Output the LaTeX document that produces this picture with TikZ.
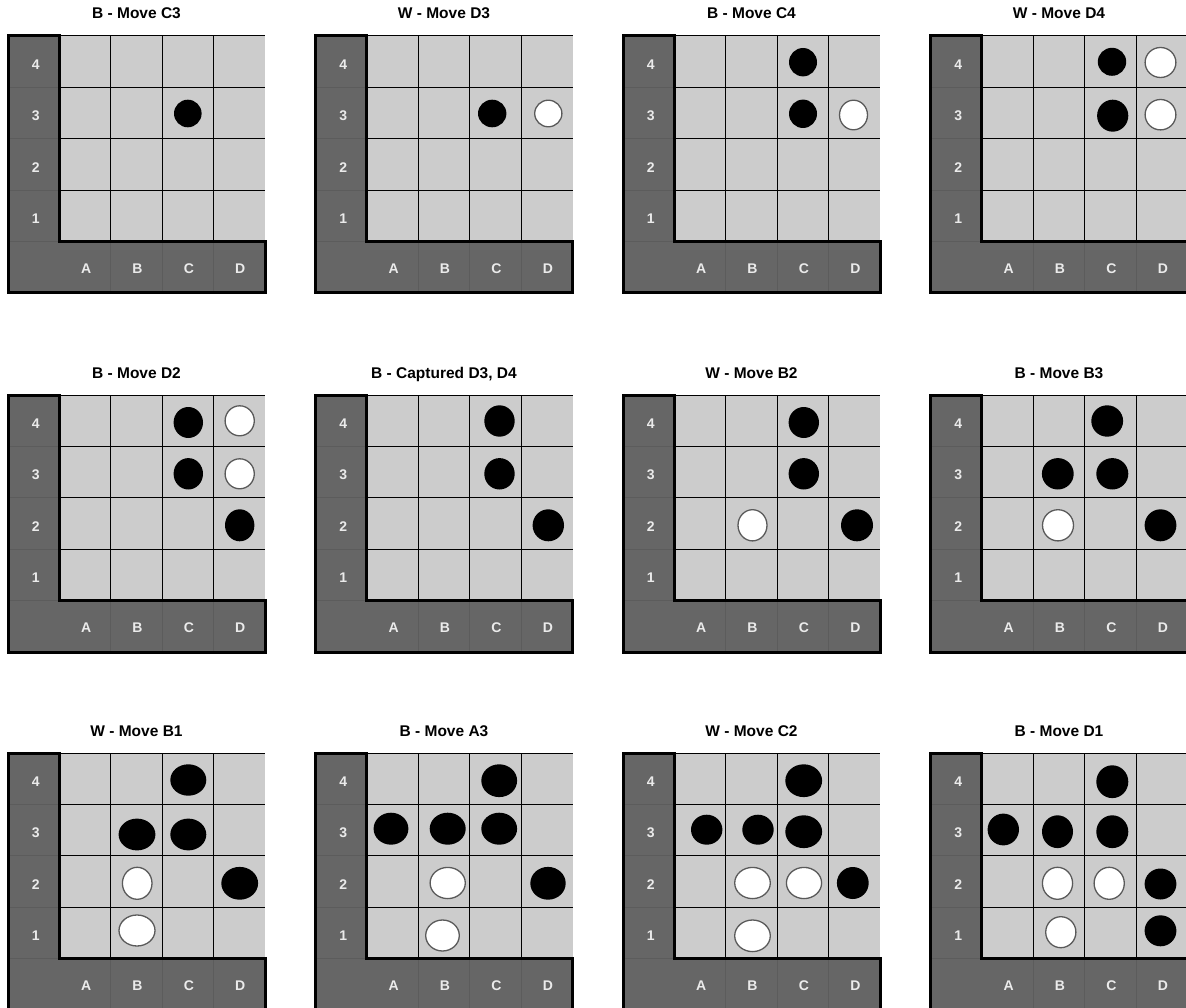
\documentclass[tikz,border=0pt]{standalone}
\usepackage{fontspec}
\setmainfont{Liberation Sans}
\definecolor{darkc}{HTML}{666666}
\definecolor{lightc}{HTML}{CCCCCC}
\definecolor{sepc}{HTML}{5C5C5C}
\definecolor{labc}{HTML}{EBEBEB}
\definecolor{rimc}{HTML}{5A5A5A}
\tikzset{
 boardtitle/.style={font=\bfseries\fontsize{15.5}{18}\selectfont, text=black, inner sep=0pt, anchor=base},
 axislabel/.style={font=\bfseries\fontsize{14}{16}\selectfont, text=labc, inner sep=0pt},
 gridline/.style={line width=1pt, black},
 sepline/.style={line width=0.8pt, sepc},
 frameline/.style={line width=3pt, black, line join=miter},
 blackstone/.style={fill=black},
 whitestone/.style={fill=white, draw=rimc, line width=1.3pt},
}
\newcommand\drawboard[4]{%
\begin{scope}[shift={(#1,#2)}]
 \fill[lightc] (51.4,0) rectangle (257,205.6);
 \fill[darkc] (0,0) -- (51.4,0) -- (51.4,205.6) -- (257,205.6) -- (257,257) -- (0,257) -- cycle;
 \foreach \yy in {51.4,102.8,154.2,205.6} \draw[sepline] (0,\yy) -- (51.4,\yy);
 \foreach \xx in {102.8,154.2,205.6} \draw[sepline] (\xx,205.6) -- (\xx,257);
 \foreach \yy in {0,51.4,102.8,154.2} \draw[gridline] (51.4,\yy) -- (257,\yy);
 \foreach \xx in {102.8,154.2,205.6} \draw[gridline] (\xx,0) -- (\xx,205.6);
 \draw[frameline] (0,0) -- (51.4,0) -- (51.4,205.6) -- (257,205.6) -- (257,257) -- (0,257) -- cycle;
 \node[boardtitle] (#4-title) at (128.5,-17) {#3};
 \node[axislabel] (#4-r4) at (27.8,28.7) {4};
 \node[axislabel] (#4-r3) at (27.8,80.1) {3};
 \node[axislabel] (#4-r2) at (27.8,131.5) {2};
 \node[axislabel] (#4-r1) at (27.8,182.9) {1};
 \node[axislabel] (#4-ca) at (78.1,232.3) {A};
 \node[axislabel] (#4-cb) at (129.5,232.3) {B};
 \node[axislabel] (#4-cc) at (180.9,232.3) {C};
 \node[axislabel] (#4-cd) at (232.3,232.3) {D};
\end{scope}}
\newcommand\bst[4]{\fill[blackstone] (#1,#2) ellipse [x radius=#3, y radius=#4];}
\newcommand\wst[4]{\draw[whitestone] (#1,#2) ellipse [x radius=#3, y radius=#4];}
\begin{document}
\begin{tikzpicture}[x=1pt,y=-1pt]
\useasboundingbox (0,0) rectangle (1186,1008);
\clip (0,0) rectangle (1186,1008);
\fill[white] (0,0) rectangle (1186,1008);
% row 1
\drawboard{8}{36}{B - Move C3}{b1}
\drawboard{315.5}{36}{W - Move D3}{b2}
\drawboard{623}{36}{B - Move C4}{b3}
\drawboard{930.5}{36}{W - Move D4}{b4}
% row 2
\drawboard{8}{395}{B - Move D2}{b5}
\drawboard{315.5}{395}{B - Captured D3, D4}{b6}
\drawboard{623}{395}{W - Move B2}{b7}
\drawboard{930.5}{395}{B - Move B3}{b8}
% row 3
\drawboard{8}{753}{W - Move B1}{b9}
\drawboard{315.5}{753}{B - Move A3}{b10}
\drawboard{623}{753}{W - Move C2}{b11}
\drawboard{930.5}{753}{B - Move D1}{b12}
% pieces board 1
\bst{187.8}{113.5}{13.8}{13.8}
% board 2
\bst{492.2}{113.5}{14.2}{13.8}
\wst{548.3}{113.5}{13.6}{13.3}
% board 3
\bst{803}{62.2}{14}{14.2}
\bst{803}{113.8}{14}{14.2}
\wst{853.5}{115}{14}{14.8}
% board 4
\bst{1112}{61.8}{14.2}{14}
\bst{1112.7}{115.7}{15.6}{16}
\wst{1160.5}{62.5}{15.4}{15}
\wst{1160.5}{114.7}{15.4}{15.2}
% board 5
\bst{188.3}{422.5}{14.7}{15.5}
\bst{188.3}{473.8}{14.7}{15.7}
\wst{239.7}{420.8}{14.6}{15}
\wst{239.7}{473.8}{14.6}{15}
\bst{239.7}{525.3}{14.7}{16}
% board 6
\bst{499.5}{421}{15.2}{15.7}
\bst{499.5}{473.8}{15.2}{15.7}
\bst{548.3}{525.3}{15.7}{16}
% board 7
\bst{803.8}{422.5}{15.2}{15.5}
\bst{803.8}{473.8}{15.2}{15.7}
\wst{752.5}{525.3}{14.5}{15.6}
\bst{857}{525.3}{16}{16}
% board 8
\bst{1107.2}{421}{15.9}{15.7}
\bst{1057.8}{473.8}{15.9}{15.7}
\bst{1112.3}{473.8}{16}{15.7}
\wst{1058}{525.3}{15.5}{15.6}
\bst{1160.5}{525.3}{15.9}{16}
% board 9
\bst{188.3}{780}{18}{15.7}
\bst{137}{834.5}{18.4}{15.9}
\bst{188.3}{834.5}{18}{15.9}
\bst{239.7}{883.3}{18.4}{16.4}
\wst{137.2}{883.3}{14.8}{16}
\wst{137}{930.5}{18}{15.5}
% board 10
\bst{499.2}{780.7}{17.9}{16.4}
\bst{391}{828.7}{17.4}{16}
\bst{447.7}{828.7}{18}{16}
\bst{499.2}{828.7}{17.9}{16}
\wst{447.7}{883}{17.6}{15.6}
\bst{548}{883.3}{17.7}{16.4}
\wst{442.5}{935.5}{16.8}{15.5}
% board 11
\bst{803.7}{780.7}{18.4}{16.4}
\bst{706.7}{829.7}{15.7}{15}
\bst{758}{829.7}{15.7}{15}
\bst{803.7}{831.7}{18.4}{16.4}
\wst{752.5}{883}{17.8}{15.6}
\wst{804}{883}{17.6}{15.6}
\bst{852.8}{883}{15.9}{16}
\wst{752.5}{935.8}{17.8}{15.8}
% board 12
\bst{1112.3}{781.7}{16}{16.4}
\bst{1003.3}{829.5}{15.7}{15.9}
\bst{1057.5}{831.7}{15.5}{16.4}
\bst{1112.3}{831.7}{16}{16.4}
\wst{1057.5}{883.3}{15.1}{16}
\wst{1109.2}{883.3}{15.1}{16}
\bst{1160.5}{884}{15.9}{15.5}
\wst{1060.8}{932.2}{15.1}{15.5}
\bst{1160.5}{930.8}{15.9}{15.5}
\end{tikzpicture}
\end{document}
